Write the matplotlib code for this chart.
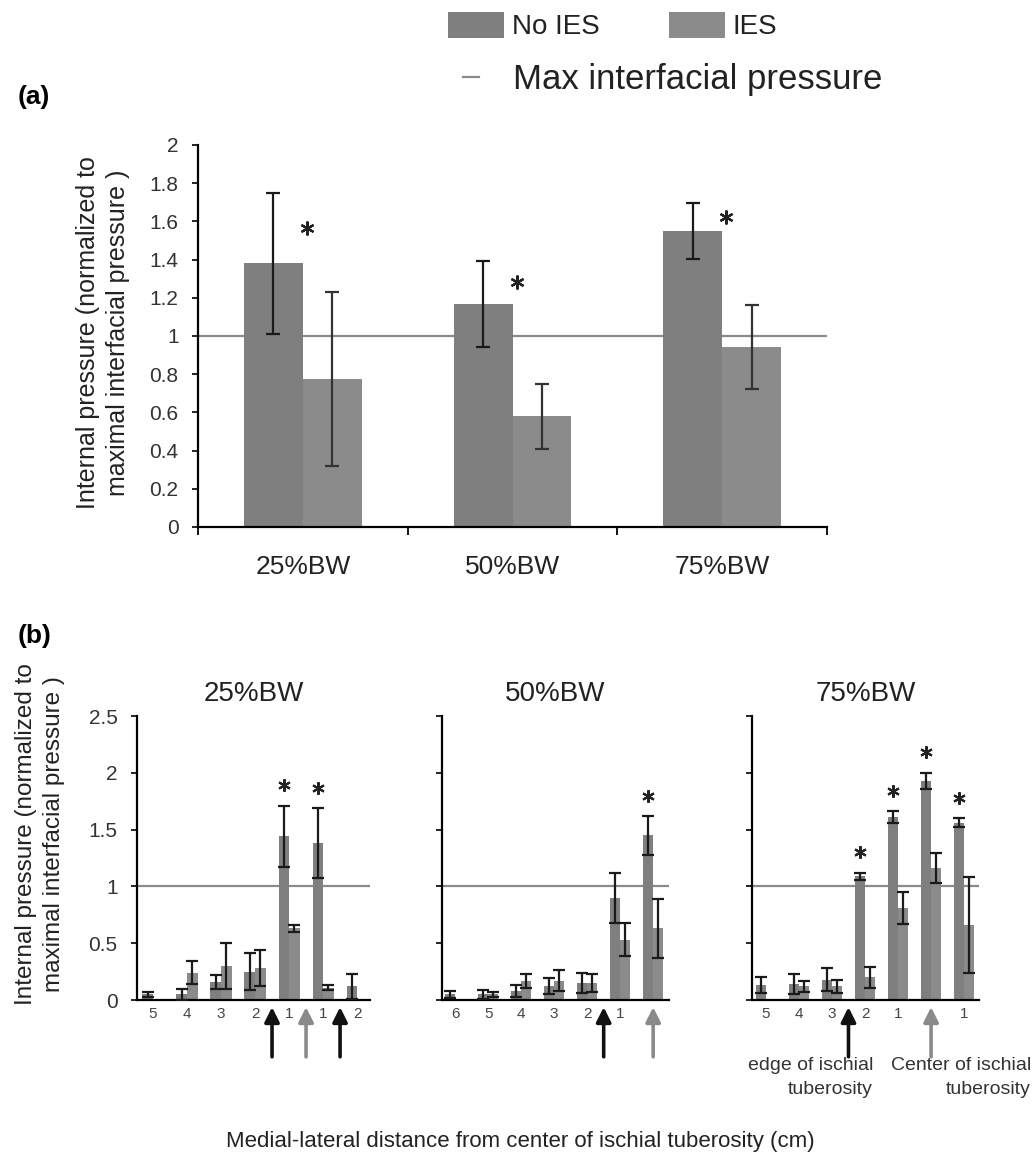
import matplotlib
matplotlib.use('Agg')
import matplotlib.pyplot as plt
from matplotlib.patches import Patch
from matplotlib.lines import Line2D
import numpy as np

plt.rcParams['font.family'] = ['Liberation Sans', 'DejaVu Sans']

# ---------------- data ----------------
cats_a = ['25%BW', '50%BW', '75%BW']
noies_a = [1.38, 1.17, 1.55]
noies_a_err = [0.37, 0.225, 0.145]
ies_a = [0.775, 0.58, 0.94]
ies_a_err = [0.455, 0.17, 0.22]
sig_a = [True, True, True]

titles_b = ['25%BW', '50%BW', '75%BW']
labels_b = [['5', '4', '3', '2', '1', '1', '2'],
            ['6', '5', '4', '3', '2', '1', ''],
            ['5', '4', '3', '2', '1', '', '1']]
noies_b = [[0.05, 0.05, 0.16, 0.25, 1.44, 1.38, 0.12],
           [0.05, 0.05, 0.08, 0.12, 0.15, 0.90, 1.45],
           [0.13, 0.14, 0.18, 1.09, 1.61, 1.93, 1.56]]
noies_b_err = [[0.02, 0.05, 0.06, 0.16, 0.27, 0.31, 0.11],
               [0.03, 0.04, 0.05, 0.07, 0.09, 0.22, 0.17],
               [0.07, 0.09, 0.10, 0.03, 0.05, 0.07, 0.04]]
ies_b = [[0.0, 0.24, 0.30, 0.28, 0.63, 0.11, 0.0],
         [0.0, 0.05, 0.17, 0.17, 0.15, 0.53, 0.63],
         [0.0, 0.12, 0.12, 0.20, 0.81, 1.16, 0.66]]
ies_b_err = [[0.0, 0.10, 0.20, 0.16, 0.03, 0.02, 0.0],
             [0.0, 0.02, 0.06, 0.09, 0.08, 0.145, 0.26],
             [0.0, 0.05, 0.06, 0.09, 0.14, 0.13, 0.42]]
sig_b = [[False, False, False, False, True, True, False],
         [False, False, False, False, False, False, True],
         [False, False, False, True, True, True, True]]
edge_arrows = [[3.5, 5.5], [4.5], [2.5]]
center_arrows = [[4.5], [6], [5]]
max_pressure = 1.0

# ---------------- style ----------------
W, H = 1036, 1162
C_NO = '#7f7f7f'
C_IES = '#8b8b8b'
C_LINE = '#8a8a8a'
C_ERR = '#1a1a1a'

fig = plt.figure(figsize=(W / 100, H / 100), dpi=100)


def fx(px):
    return px / W


def fy(py):
    return 1 - py / H


def axes_px(left, top, right, bottom):
    return fig.add_axes([fx(left), fy(bottom), (right - left) / W, (bottom - top) / H])


# ---------------- panel (a) ----------------
ax = axes_px(198, 145, 827, 527)
x = np.arange(len(cats_a))
bw = 0.28
ax.bar(x - bw / 2, noies_a, bw, color=C_NO, zorder=2)
ax.bar(x + bw / 2, ies_a, bw, color=C_IES, zorder=2)
ax.errorbar(x - bw / 2, noies_a, yerr=noies_a_err, fmt='none', ecolor=C_ERR,
            elinewidth=1.6, capsize=5, capthick=1.6, zorder=3)
ax.errorbar(x + bw / 2, ies_a, yerr=ies_a_err, fmt='none', ecolor='#333333',
            elinewidth=1.6, capsize=5, capthick=1.6, zorder=3)
ax.axhline(max_pressure, color=C_LINE, lw=1.6, zorder=1)
for i, s in enumerate(sig_a):
    if s:
        ax.plot(x[i] + 0.02, noies_a[i] + noies_a_err[i] * 0.5, marker=(6, 2, 0),
                ms=10, mew=1.6, color='#222222', zorder=4)
ax.set_xlim(-0.5, 2.5)
ax.set_ylim(0, 2)
ax.set_yticks(np.arange(0, 2.01, 0.2))
ax.set_yticklabels(['0', '0.2', '0.4', '0.6', '0.8', '1', '1.2', '1.4', '1.6', '1.8', '2'])
ax.set_xticks([-0.5, 0.5, 1.5, 2.5])
ax.set_xticklabels([])
ax.set_xticks(x, minor=True)
ax.set_xticklabels(cats_a, minor=True, fontsize=19, color='#222222')
ax.tick_params(axis='x', which='minor', length=0, pad=20)
ax.tick_params(axis='x', which='major', length=6, width=1.3, direction='out')
ax.tick_params(axis='y', length=4, width=1.2, direction='out', pad=10,
               labelsize=15, labelcolor='#333333')
for sp in ['top', 'right']:
    ax.spines[sp].set_visible(False)
for sp in ['left', 'bottom']:
    ax.spines[sp].set_linewidth(1.6)

fig.text(fx(103), fy(333), 'Internal pressure (normalized to\nmaximal interfacial pressure )',
         rotation=90, ha='center', va='center', fontsize=18, linespacing=1.35, color='#222222')
fig.text(fx(18), fy(97), '(a)', fontsize=19, fontweight='bold', va='center', ha='left')

# legend
h1 = [Patch(facecolor=C_NO, edgecolor='none'), Patch(facecolor=C_IES, edgecolor='none')]
leg1 = fig.legend(h1, ['No IES', 'IES'], ncol=2, loc='center left',
                  bbox_to_anchor=(fx(448), fy(26)), frameon=False, fontsize=20,
                  handlelength=2.0, handleheight=1.05, handletextpad=0.3,
                  columnspacing=2.5, borderpad=0, borderaxespad=0)
leg2 = fig.legend([Line2D([0], [0], color=C_LINE, lw=1.6)], ['Max interfacial pressure'],
                  loc='center left', bbox_to_anchor=(fx(463), fy(80)), frameon=False,
                  fontsize=25, handlelength=0.45, handletextpad=1.0, borderpad=0,
                  borderaxespad=0)
for t in list(leg1.get_texts()) + list(leg2.get_texts()):
    t.set_color('#222222')

# ---------------- panel (b) ----------------
ax_px = [(137, 370, -0.47, 6.38), (442, 669, -0.40, 6.48), (752, 979, -0.42, 6.45)]
bwb = 0.31
for k in range(3):
    left, right, x0, x1 = ax_px[k]
    axb = axes_px(left, 716, right, 1000)
    xb = np.arange(len(labels_b[k]))
    axb.bar(xb - bwb / 2, noies_b[k], bwb, color=C_NO, zorder=2)
    axb.bar(xb + bwb / 2, ies_b[k], bwb, color=C_IES, zorder=2)
    ne = np.array(noies_b_err[k])
    ie = np.array(ies_b_err[k])
    mn = ne > 0
    mi = ie > 0
    axb.errorbar((xb - bwb / 2)[mn], np.array(noies_b[k])[mn], yerr=ne[mn], fmt='none',
                 ecolor=C_ERR, elinewidth=1.6, capsize=4, capthick=1.6, zorder=3)
    axb.errorbar((xb + bwb / 2)[mi], np.array(ies_b[k])[mi], yerr=ie[mi], fmt='none',
                 ecolor=C_ERR, elinewidth=1.6, capsize=4, capthick=1.6, zorder=3)
    axb.axhline(max_pressure, color=C_LINE, lw=1.6, zorder=1)
    for i, s in enumerate(sig_b[k]):
        if s:
            axb.plot(xb[i] - bwb / 2, noies_b[k][i] + noies_b_err[k][i] + 0.18,
                     marker=(6, 2, 0), ms=9, mew=1.5, color='#222222', zorder=4,
                     clip_on=False)
    axb.set_xlim(x0, x1)
    axb.set_ylim(0, 2.5)
    axb.set_yticks([0, 0.5, 1, 1.5, 2, 2.5])
    if k == 0:
        axb.set_yticklabels(['0', '0.5', '1', '1.5', '2', '2.5'])
    else:
        axb.set_yticklabels([])
    axb.tick_params(axis='y', length=4, width=1.2, direction='out', pad=10,
                    labelsize=15, labelcolor='#333333')
    axb.set_xticks(xb)
    axb.set_xticklabels(labels_b[k], fontsize=11, color='#444444')
    axb.tick_params(axis='x', length=0, pad=5)
    for sp in ['top', 'right']:
        axb.spines[sp].set_visible(False)
    for sp in ['left', 'bottom']:
        axb.spines[sp].set_linewidth(1.6)
    axb.set_title(titles_b[k], fontsize=20, pad=11, color='#222222')
    for pos in edge_arrows[k]:
        axb.annotate('', xy=(pos, -0.025), xycoords=('data', 'axes fraction'),
                     xytext=(pos, -0.2), textcoords=('data', 'axes fraction'),
                     arrowprops=dict(arrowstyle='-|>', color='#111111', lw=2.6,
                                     mutation_scale=22, shrinkA=0, shrinkB=0),
                     annotation_clip=False)
    for pos in center_arrows[k]:
        axb.annotate('', xy=(pos, -0.025), xycoords=('data', 'axes fraction'),
                     xytext=(pos, -0.2), textcoords=('data', 'axes fraction'),
                     arrowprops=dict(arrowstyle='-|>', color='#8a8a8a', lw=2.6,
                                     mutation_scale=22, shrinkA=0, shrinkB=0),
                     annotation_clip=False)

fig.text(fx(40), fy(834), 'Internal pressure (normalized to\nmaximal interfacial pressure )',
         rotation=90, ha='center', va='center', fontsize=17.5, linespacing=1.35, color='#222222')
fig.text(fx(18), fy(636), '(b)', fontsize=19, fontweight='bold', va='center', ha='left')

for xr, l1 in [(873, 'edge of ischial'), (1031, 'Center of ischial')]:
    fig.text(fx(xr), fy(1066), l1, ha='right', va='center', fontsize=14, color='#333333')
    fig.text(fx(xr), fy(1089), 'tuberosity', ha='right', va='center', fontsize=14,
             color='#333333')
fig.text(fx(520), fy(1142), 'Medial-lateral distance from center of ischial tuberosity (cm)',
         ha='center', va='center', fontsize=16, color='#222222')

fig.savefig('out.png', dpi=100)
